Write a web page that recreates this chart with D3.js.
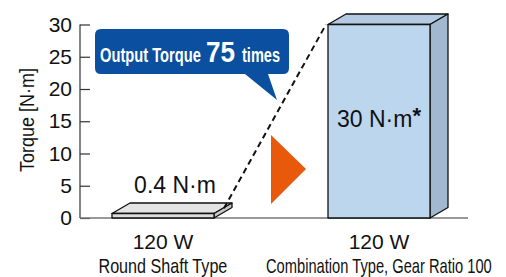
<!DOCTYPE html>
<html>
<head>
<meta charset="utf-8">
<script src="https://cdn.jsdelivr.net/npm/d3@7"></script>
<style>
  body { margin: 0; background: #fff; }
  svg { display: block; }
  text { font-family: "Liberation Sans", Arial, sans-serif; }
</style>
</head>
<body>
<svg id="chart"></svg>
<script>
const width = 506;
const height = 277;

// data
const categories = ["Round Shaft Type", "Combination Type, Gear Ratio 100"];
const powers = ["120 W", "120 W"];
const torque = [0.4, 30];
const valueLabels = ["0.4 N·m", "30 N·m"];
const yTicks = [0, 5, 10, 15, 20, 25, 30];
const ratio = 75;

const svg = d3.select("#chart")
  .attr("width", width)
  .attr("height", height);

// condensed look: draw with Liberation Sans and squeeze horizontally to a target width
function narrowText(parent, str, x, y, size, w, anchor, weight, fill) {
  const t = parent.append("text")
    .attr("font-size", size)
    .attr("font-weight", weight || "normal")
    .attr("fill", fill || "#111")
    .attr("text-anchor", "start")
    .text(str);
  const natural = t.node().getComputedTextLength();
  const sx = w / natural;
  const left = anchor === "middle" ? x - w / 2 : x;
  t.attr("transform", `translate(${left},${y}) scale(${sx},1)`);
  return t;
}

const yScale = d3.scaleLinear().domain([0, 30]).range([218, 24.5]);
const xScale = d3.scalePoint().domain(categories).range([163, 379]);

const barW = 102;
const depthX = 18, depthY = -10.5;

// y axis
const yAxis = d3.axisLeft(yScale)
  .tickValues(yTicks)
  .tickSize(-10)
  .tickPadding(8);

const gy = svg.append("g")
  .attr("transform", "translate(80,0)")
  .call(yAxis);
gy.select(".domain").attr("stroke", "#333").attr("stroke-width", 1.2).attr("d", "M0," + yScale(30) + "V" + yScale(0));
gy.selectAll(".tick line").attr("stroke", "#333").attr("stroke-width", 1.2);
gy.selectAll(".tick text")
  .attr("font-size", 21)
  .attr("fill", "#111")
  .attr("font-family", "Liberation Sans, Arial, sans-serif");

const yl = svg.append("g").attr("transform", "translate(34,120) rotate(-90)");
narrowText(yl, "Torque [N·m]", 0, 0, 20.5, 104, "middle");

// baseline
svg.append("line")
  .attr("x1", 80).attr("x2", 468)
  .attr("y1", yScale(0)).attr("y2", yScale(0))
  .attr("stroke", "#777").attr("stroke-width", 1.5);

// 3D bars
const fronts = ["#dcdcdc", "#bcd6ee"];
const sides = ["#c8c8c8", "#a2b8d0"];
const tops = ["#e4e4e4", "#b3cae2"];

categories.forEach((c, i) => {
  const cx = xScale(c);
  const x0 = cx - barW / 2, x1 = cx + barW / 2;
  const yb = yScale(0);
  let yt = yScale(torque[i]);
  if (yb - yt < 4.5) yt = yb - 4.5;
  const g = svg.append("g").attr("stroke", "#111").attr("stroke-width", 1.3).attr("stroke-linejoin", "round");
  g.append("path")
    .attr("fill", tops[i])
    .attr("d", `M${x0},${yt}L${x0 + depthX},${yt + depthY}L${x1 + depthX},${yt + depthY}L${x1},${yt}Z`);
  g.append("path")
    .attr("fill", sides[i])
    .attr("d", `M${x1},${yt}L${x1 + depthX},${yt + depthY}L${x1 + depthX},${yb + depthY}L${x1},${yb}Z`);
  g.append("rect")
    .attr("fill", fronts[i])
    .attr("x", x0).attr("y", yt)
    .attr("width", barW).attr("height", yb - yt);

  svg.append("text")
    .attr("x", cx).attr("y", 249)
    .attr("text-anchor", "middle")
    .attr("font-size", 21)
    .attr("fill", "#111")
    .text(powers[i]);

  narrowText(svg, c, cx, 273, 20, i === 0 ? 129 : 226, "middle");
});

// value labels
svg.append("text")
  .attr("x", xScale(categories[0]) + 12).attr("y", 193)
  .attr("text-anchor", "middle")
  .attr("font-size", 23)
  .attr("fill", "#111")
  .text(valueLabels[0]);

const lbl1 = svg.append("text")
  .attr("x", xScale(categories[1])).attr("y", 127)
  .attr("text-anchor", "middle")
  .attr("font-size", 23)
  .attr("fill", "#111");
lbl1.append("tspan").text(valueLabels[1]);
lbl1.append("tspan").attr("font-weight", "bold").attr("font-size", 22).attr("dy", -4).text("*");

// dashed connector from small bar top corner to big bar top corner
const sx = xScale(categories[0]) + barW / 2 + depthX / 2 + 1;
const sy = yScale(0) - 4.5 + depthY / 2;
svg.append("line")
  .attr("x1", sx).attr("y1", sy)
  .attr("x2", xScale(categories[1]) - barW / 2 - 2).attr("y2", yScale(torque[1]))
  .attr("stroke", "#111").attr("stroke-width", 2)
  .attr("stroke-dasharray", "6,4");

// orange arrow
svg.append("path")
  .attr("fill", "#e8590c")
  .attr("d", "M271,135L306,169L271,204Z");

// callout
const bx0 = 95, by0 = 29, bx1 = 289, by1 = 74, r = 6;
svg.append("path")
  .attr("fill", "#0a4fa0")
  .attr("d", `M${bx0 + r},${by0}H${bx1 - r}Q${bx1},${by0} ${bx1},${by0 + r}V${by1 - r}Q${bx1},${by1} ${bx1 - r},${by1}` +
    `H268L277,100L245,${by1}H${bx0 + r}Q${bx0},${by1} ${bx0},${by1 - r}V${by0 + r}Q${bx0},${by0} ${bx0 + r},${by0}Z`);

narrowText(svg, "Output Torque", 100, 62, 21, 101, "start", "bold", "#fff");
narrowText(svg, String(ratio), 206, 62, 29, 29, "start", "bold", "#fff");
narrowText(svg, "times", 242, 62, 21, 38, "start", "bold", "#fff");
</script>
</body>
</html>
